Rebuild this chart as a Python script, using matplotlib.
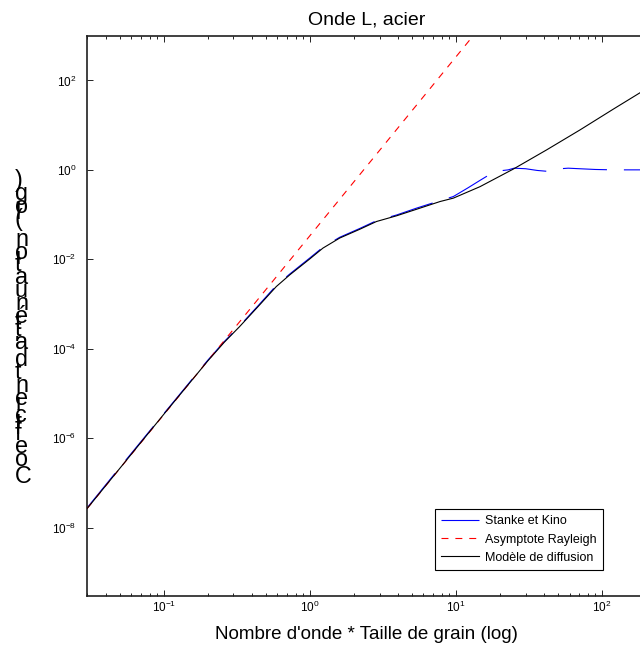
import numpy as np
import matplotlib
matplotlib.use("Agg")
import matplotlib.pyplot as plt
from matplotlib import font_manager, ticker
from matplotlib.ft2font import FT2Font

plt.rcParams["font.family"] = ["Liberation Sans", "DejaVu Sans"]
plt.rcParams["mathtext.fontset"] = "custom"
plt.rcParams["mathtext.rm"] = "Liberation Sans"
plt.rcParams["mathtext.default"] = "regular"
plt.rcParams["lines.scale_dashes"] = False

# Stanke et Kino (blue)
k_sk = [0.03, 0.05, 0.1, 0.2, 0.26, 0.33, 0.45, 0.59, 0.73, 1.0, 1.23, 1.6,
        2.2, 2.86, 3.93, 5.4, 7.8, 9.6, 12, 14.6, 17.6, 20, 22.8, 25, 30, 36,
        41.8, 46, 52, 58.7, 70, 90, 119, 155, 200]
att_sk = [2.8e-8, 2.2e-7, 3.5e-6, 5.5e-5, 1.45e-4, 3.2e-4, 9.7e-4, 2.6e-3,
          4.7e-3, 1.07e-2, 1.86e-2, 3.1e-2, 4.9e-2, 7.3e-2, 9.8e-2, 0.14,
          0.205, 0.253, 0.39, 0.58, 0.84, 0.95, 1.0, 1.09, 1.06, 0.97, 0.93,
          1.0, 1.06, 1.09, 1.06, 1.02, 1.0, 1.0, 1.0]

# Asymptote Rayleigh (red dashed)
k_ray = [0.03, 15]
att_ray = [2.7e-8, 1.7e3]

# Modele de diffusion (black)
k_diff = [0.03, 0.05, 0.1, 0.2, 0.26, 0.33, 0.45, 0.59, 0.73, 1.0, 1.23, 1.6,
          2.2, 2.86, 3.93, 5.4, 7.8, 9.6, 14.6, 24.7, 41.8, 70.6, 120, 200]
att_diff = [2.7e-8, 2.1e-7, 3.4e-6, 5.3e-5, 1.4e-4, 3.1e-4, 9.3e-4, 2.46e-3,
            4.5e-3, 1.02e-2, 1.78e-2, 2.98e-2, 4.7e-2, 7.0e-2, 9.4e-2, 0.132,
            0.196, 0.233, 0.42, 1.04, 2.8, 7.8, 23, 64]

labels = ["Stanke et Kino", "Asymptote Rayleigh", "Modèle de diffusion"]
ylabel_text = "Coefficient d'atténuation (log)"

W, H = 640, 650
fig = plt.figure(figsize=(W / 100, H / 100), dpi=100)
ax = fig.add_axes([87.3 / W, 1 - 595.7 / H, (646 - 87.3) / W, (595.7 - 35.7) / H])

ax.plot(k_sk, att_sk, color="#0000ff", lw=0.8, linestyle=(0, (31.7, 12.2)),
        label=labels[0], zorder=2)
ax.plot(k_ray, att_ray, color="#ff0000", lw=0.8, linestyle=(0, (5, 5)),
        label=labels[1], zorder=3)
ax.plot(k_diff, att_diff, color="black", lw=0.8, label=labels[2], zorder=4)

ax.set_xscale("log")
ax.set_yscale("log")
ax.set_xlim(0.03, 200)
ax.set_ylim(3e-10, 1e3)

ax.xaxis.set_major_locator(ticker.LogLocator(base=10, numticks=12))
ax.xaxis.set_minor_locator(ticker.LogLocator(base=10, subs=np.arange(2, 10), numticks=40))
ax.xaxis.set_minor_formatter(ticker.NullFormatter())
ax.yaxis.set_major_locator(ticker.FixedLocator(10.0 ** np.arange(-8, 3, 2)))
ax.yaxis.set_major_formatter(ticker.LogFormatterSciNotation(base=10))
ax.yaxis.set_minor_locator(ticker.NullLocator())

ax.tick_params(which="both", direction="in", top=True, right=True,
               width=0.6, colors="black")
ax.tick_params(which="major", length=4.5)
ax.tick_params(which="minor", length=2.5)
ax.tick_params(axis="x", pad=3, labelsize=8.5)
ax.tick_params(axis="y", pad=8, labelsize=8.5)
for sp in ax.spines.values():
    sp.set_linewidth(1.2)
    sp.set_color("#202020")

ax.set_title("Onde L, acier", fontsize=14, pad=8)
ax.set_xlabel("Nombre d'onde * Taille de grain (log)", fontsize=13.5, labelpad=8)

leg = ax.legend(loc="lower right", bbox_to_anchor=(603 / W, 1 - 570 / H),
                bbox_transform=fig.transFigure, borderaxespad=0, fontsize=9,
                handlelength=3.0, handletextpad=0.5, labelspacing=0.5,
                borderpad=0.5, fancybox=False, framealpha=1, edgecolor="black")
leg.get_frame().set_linewidth(0.8)

# y label drawn glyph by glyph, stacked upward as in the source image
prop = font_manager.FontProperties(family="Liberation Sans", size=16.8)
font = FT2Font(font_manager.findfont(prop))
font.set_size(16.8, fig.dpi)
y_px = 483.0
for ch in ylabel_text:
    fig.text(15 / W, 1 - y_px / H, ch, fontproperties=prop,
             ha="left", va="baseline")
    glyph = font.load_char(ord(ch))
    y_px -= glyph.linearHoriAdvance / 65536

fig.savefig("out.png", dpi=100)
